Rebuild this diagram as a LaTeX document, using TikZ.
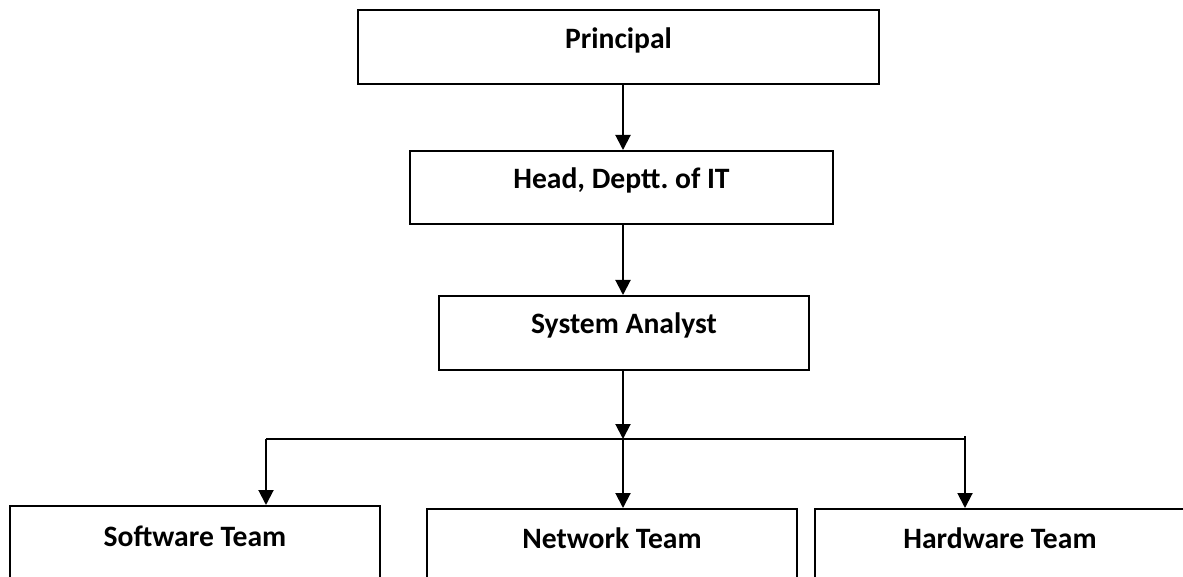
\documentclass[tikz,border=0pt]{standalone}
\usepackage{fontspec}
\setmainfont{Carlito}
\usepackage{tikz}
\usetikzlibrary{arrows.meta}

\begin{document}
\begin{tikzpicture}[x=0.5pt,y=-0.5pt]
  \tikzset{post/.style = {draw,line width=1pt,anchor=north,inner xsep=0pt,inner ysep=0pt,
      text height=19.5pt,text depth=17.5pt,minimum width=185pt,
      font=\fontsize{14.8pt}{17pt}\selectfont\bfseries}}
  \tikzset{team/.style = {post,text height=20pt,text depth=40pt}}
  \tikzset{link/.style = {-{Triangle[length=7.5pt,width=7.5pt]},line width=1pt}}
  \useasboundingbox (0,0) rectangle (1183,577);
  \clip (0,0) rectangle (1183,577);
	\node[post,minimum width=260.5pt] (P) at (618.5,9) {Principal};
	\node[post,minimum width=211.5pt,text height=19pt] (H) at (621.5,150) {Head, Deptt.\ of IT};
	\node[post,text height=19pt,text depth=18pt] (A) at (624,295) {System Analyst};
	\node[team] (SW) at (195,505) {Software Team};
	\node[team,text height=19.5pt] (NW) at (612,508) {Network Team};
	\node[team,text height=19.5pt] (HW) at (1000,508) {Hardware Team};

	\coordinate (J) at (623,439);
	\coordinate (L) at (266,439);
	\coordinate (R) at (965,439);
	\coordinate (RT) at (965,436);

       \foreach \from/\to in {P/H, H/A}
    \draw[link] (\from.south -| J) -- (\to.north -| J);
	\draw[link] (A.south -| J) -- (J);
	\draw[line width=1pt] (L) -- (R);
	\draw[link] (J) -- (NW.north -| J);
	\draw[link] (L) -- (SW.north -| L);
	\draw[link] (RT) -- (HW.north -| RT);
\end{tikzpicture}
\end{document}
